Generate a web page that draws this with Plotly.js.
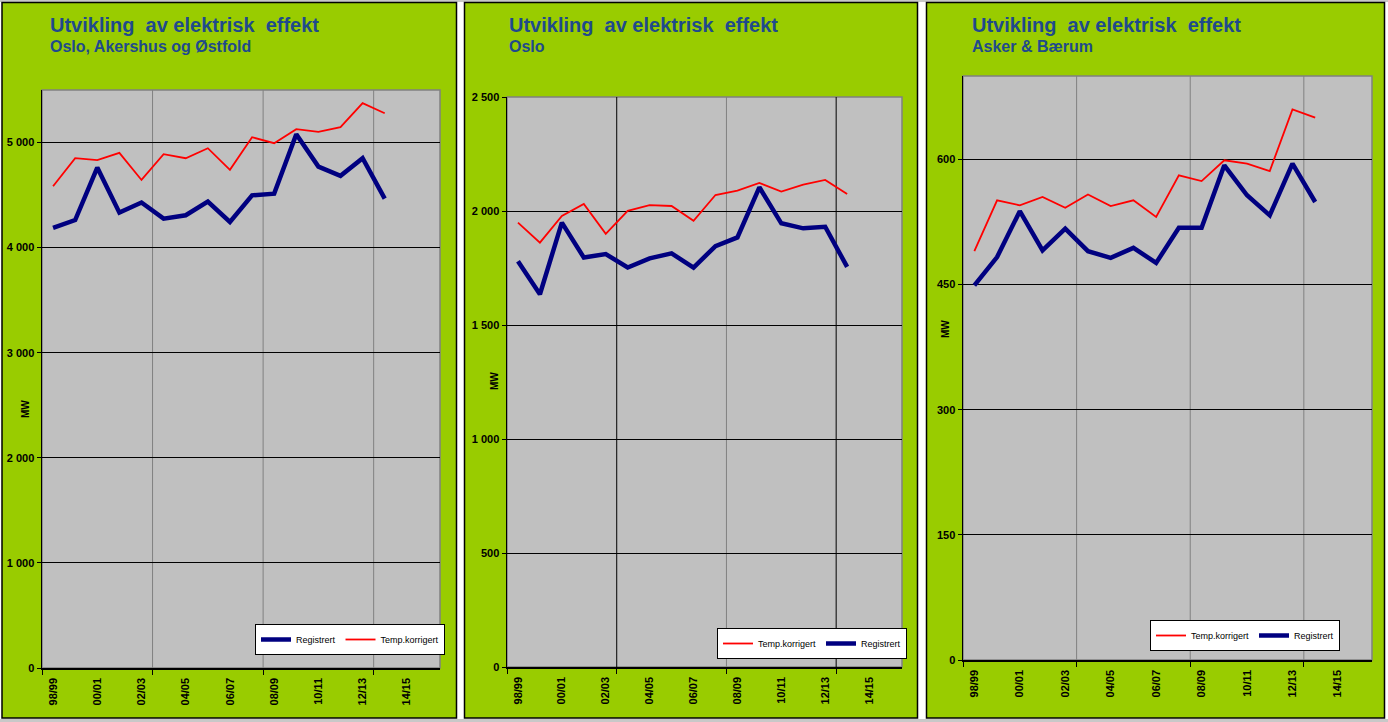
<!DOCTYPE html>
<html>
<head>
<meta charset="utf-8">
<script src="https://cdn.plot.ly/plotly-3.0.1.min.js"></script>
<style>html,body{margin:0;padding:0;background:#fff;}#chart{width:1388px;height:722px;}</style>
</head>
<body>
<div id="chart"></div>
<script>
// ---- data ----
const axisCategories = ['98/99','99/00','00/01','01/02','02/03','03/04','04/05','05/06','06/07','07/08','08/09','09/10','10/11','11/12','12/13','13/14','14/15','15/16'];
const seasons = ['98/99','99/00','00/01','01/02','02/03','03/04','04/05','05/06','06/07','07/08','08/09','09/10','10/11','11/12','12/13','13/14'];
const tickLabels = ['98/99','00/01','02/03','04/05','06/07','08/09','10/11','12/13','14/15'];

const oaoRegistrert = [4187,4263,4762,4333,4429,4276,4308,4438,4244,4498,4514,5079,4771,4683,4851,4467];
const oaoTempkorr   = [4584,4851,4832,4902,4644,4889,4851,4946,4740,5051,4994,5127,5102,5146,5375,5279];
const osloRegistrert = [1780,1635,1949,1796,1811,1752,1792,1814,1752,1846,1884,2104,1946,1924,1931,1755];
const osloTempkorr   = [1949,1861,1978,2031,1900,2001,2026,2022,1957,2070,2089,2123,2085,2116,2136,2075];
const abRegistrert = [449,483,538,491,517,490,482,494,476,518,518,593,557,533,595,549];
const abTempkorr   = [490,551,545,555,542,558,544,551,531,581,574,599,595,586,660,650];

const yTicks1 = [0,1000,2000,3000,4000,5000];
const yTickText1 = ['0','1 000','2 000','3 000','4 000','5 000'];
const yTicks2 = [0,500,1000,1500,2000,2500];
const yTickText2 = ['0','500','1 000','1 500','2 000','2 500'];
const yTicks3 = [0,150,300,450,600];
const yTickText3 = ['0','150','300','450','600'];

const titleMain = 'Utvikling\u00A0 av elektrisk\u00A0 effekt';
const subtitles = ['Oslo, Akershus og Østfold','Oslo','Asker &amp; Bærum'];
const nameReg = 'Registrert';
const nameTemp = 'Temp.korrigert';

// ---- layout helpers ----
const W = 1388, H = 722;
const px = v => v / W;
const py = v => 1 - v / H;
const xIdx = seasons.map(s => axisCategories.indexOf(s));
const xTickVals = tickLabels.map(s => axisCategories.indexOf(s));

const GREEN = '#99CC00', PLOTGREY = '#C0C0C0', BLUE = '#000080', RED = '#FF0000', TITLE = '#1F4A8C';
const FONT = 'Liberation Sans, Arial, sans-serif';
const tickFont = {family: FONT, size: 11, color: '#000', weight: 'bold'};

const panels = [
  {frame:[2,456.5], plot:{x:[42,440], y:[90,668]}, yr:[0,5500], yt:yTicks1, ytt:yTickText1, gridv:['#808080','#808080','#808080'], titleX:50, mw:[25,409]},
  {frame:[464.5,917.5], plot:{x:[507,902], y:[97,667]}, yr:[0,2500], yt:yTicks2, ytt:yTickText2, gridv:['#000000','#808080','#000000'], titleX:509, mw:[495,381]},
  {frame:[926.5,1384.5], plot:{x:[963,1372], y:[76,660]}, yr:[0,700], yt:yTicks3, ytt:yTickText3, gridv:['#808080','#808080','#808080'], titleX:972, mw:[945,329]}
];
const vGridAt = [4.5, 9.5, 14.5];

const layout = {
  width: W, height: H,
  margin: {l:0, r:0, t:0, b:0},
  paper_bgcolor: '#FFFFFF',
  plot_bgcolor: 'rgba(0,0,0,0)',
  showlegend: true,
  shapes: [],
  annotations: []
};

// outer light grey edges
layout.shapes.push({type:'rect', xref:'paper', yref:'paper', x0:0, x1:1, y0:py(2), y1:1, fillcolor:'#C8C8C8', line:{width:0}, layer:'below'});
layout.shapes.push({type:'rect', xref:'paper', yref:'paper', x0:0, x1:1, y0:0, y1:py(719), fillcolor:'#C8C8C8', line:{width:0}, layer:'below'});

panels.forEach((p, i) => {
  const n = i === 0 ? '' : String(i + 1);
  const xa = 'xaxis' + n, ya = 'yaxis' + n;
  layout.shapes.push({type:'rect', xref:'paper', yref:'paper', x0:px(p.frame[0]), x1:px(p.frame[1]), y0:py(718), y1:py(2.5),
    fillcolor:GREEN, line:{color:'#000', width:1.5}, layer:'below'});
  layout.shapes.push({type:'rect', xref:'paper', yref:'paper', x0:px(p.plot.x[0]), x1:px(p.plot.x[1]), y0:py(p.plot.y[1]), y1:py(p.plot.y[0]),
    fillcolor:PLOTGREY, line:{color:'#808080', width:1.5}, layer:'below'});
  vGridAt.forEach((gx, k) => {
    layout.shapes.push({type:'line', xref:'x' + n, yref:'y' + n + ' domain', x0:gx, x1:gx, y0:0, y1:1,
      line:{color:p.gridv[k], width:1}, layer:'below'});
  });

  layout[xa] = {
    domain:[px(p.plot.x[0]), px(p.plot.x[1])],
    anchor: 'y' + n,
    range:[-0.5, axisCategories.length - 0.5],
    tickmode:'array', tickvals:xTickVals, ticktext:tickLabels,
    tickangle:-90, ticks:'', ticklen:0, ticklabelstandoff:4,
    tickfont:tickFont,
    showgrid:false, zeroline:false,
    showline:true, linecolor:'#000', linewidth:1.5,
    minor:{tickmode:'linear', tick0:4.5, dtick:5, ticks:'outside', ticklen:5, tickcolor:'#000', tickwidth:1, showgrid:false},
    fixedrange:true
  };
  layout[ya] = {
    domain:[py(p.plot.y[1]), py(p.plot.y[0])],
    anchor: 'x' + n,
    range:p.yr,
    tickmode:'array', tickvals:p.yt, ticktext:p.ytt,
    ticks:'outside', ticklen:4, tickcolor:'#000', tickwidth:1,
    tickfont:tickFont,
    showgrid:true, gridcolor:'#000', gridwidth:1,
    zeroline:false,
    showline:true, linecolor:'#000', linewidth:1.5,
    fixedrange:true
  };

  layout.annotations.push({xref:'paper', yref:'paper', x:px(p.titleX - 2), y:py(12), xanchor:'left', yanchor:'top', showarrow:false,
    text:'<b>' + titleMain + '</b>', font:{family:FONT, size:20, color:TITLE}});
  layout.annotations.push({xref:'paper', yref:'paper', x:px(p.titleX - 2), y:py(36), xanchor:'left', yanchor:'top', showarrow:false,
    text:'<b>' + subtitles[i] + '</b>', font:{family:FONT, size:16, color:TITLE}});
  layout.annotations.push({xref:'paper', yref:'paper', x:px(p.mw[0]), y:py(p.mw[1]), xanchor:'center', yanchor:'middle', showarrow:false,
    textangle:-90, text:'<b>MW</b>', font:{family:FONT, size:10, color:'#000'}});
});

const legendBase = {orientation:'h', bgcolor:'#FFFFFF', bordercolor:'#000', borderwidth:1,
  font:{family:FONT, size:9, color:'#000'}, xanchor:'left', yanchor:'top', itemwidth:30};
layout.legend  = Object.assign({}, legendBase, {x:px(255), y:py(624)});
layout.legend2 = Object.assign({}, legendBase, {x:px(717), y:py(628)});
layout.legend3 = Object.assign({}, legendBase, {x:px(1150), y:py(620)});

function tr(yv, name, color, width, n, leg) {
  return {x:xIdx, y:yv, type:'scatter', mode:'lines', name:name,
    line:{color:color, width:width}, xaxis:'x'+n, yaxis:'y'+n, legend:leg, hoverinfo:'skip'};
}

const data = [
  tr(oaoRegistrert, nameReg, BLUE, 4.5, '', 'legend'),
  tr(oaoTempkorr, nameTemp, RED, 1.8, '', 'legend'),
  tr(osloTempkorr, nameTemp, RED, 1.8, '2', 'legend2'),
  tr(osloRegistrert, nameReg, BLUE, 4.5, '2', 'legend2'),
  tr(abTempkorr, nameTemp, RED, 1.8, '3', 'legend3'),
  tr(abRegistrert, nameReg, BLUE, 4.5, '3', 'legend3')
];
Plotly.newPlot('chart', data, layout, {staticPlot:true, displayModeBar:false});
</script>
</body>
</html>
